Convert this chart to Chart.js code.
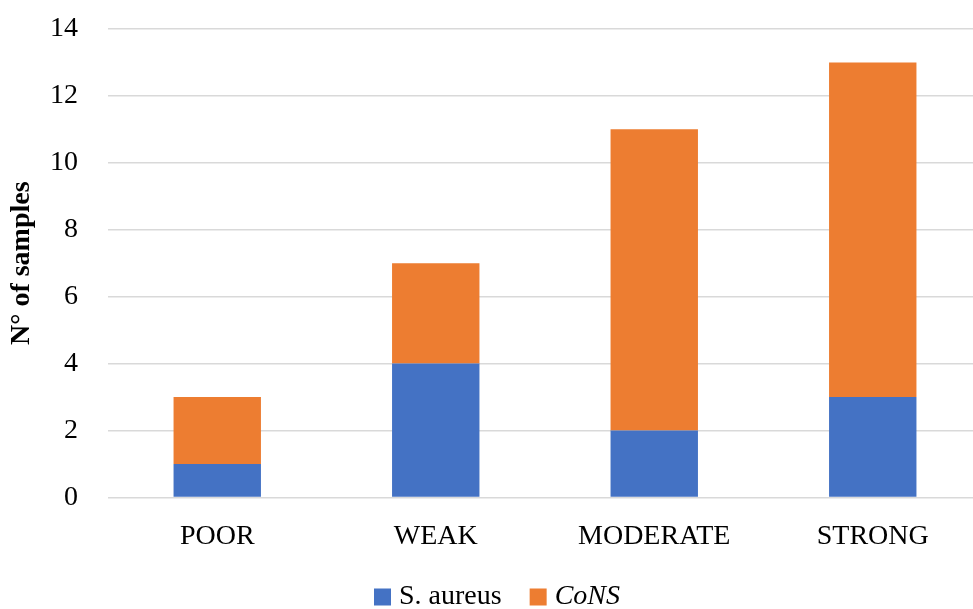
<!DOCTYPE html>
<html>
<head>
<meta charset="utf-8">
<script src="https://cdn.jsdelivr.net/npm/chart.js@4.4.0/dist/chart.umd.min.js"></script>
<style>
  html, body { margin: 0; padding: 0; background: #fff; overflow: hidden; }
  #wrap { width: 982px; height: 609px; }
</style>
</head>
<body>
<div id="wrap"><canvas id="chartBiofilm"></canvas></div>
<script>
// categorías de formación de biofilm
const categorias = ["POOR", "WEAK", "MODERATE", "STRONG"];
const valoresAureus = [1, 4, 2, 3];
const valoresCoNS = [2, 3, 9, 10];
const nombresSeries = ["S. aureus", "CoNS"];
const estilosLeyenda = ["normal", "italic"];

const FUENTE = "'Liberation Serif', 'Times New Roman', serif";
const TAM = 28;

// Leyenda propia: Chart.js no permite cursiva en una sola etiqueta
const leyendaMixta = {
    id: "leyendaMixta",
    afterDraw(chart) {
        const ctx = chart.ctx;
        const items = chart.data.datasets.map((ds, i) => ({
            texto: ds.label,
            color: ds.backgroundColor,
            estilo: estilosLeyenda[i]
        }));
        const caja = 17, sep = 8, hueco = 28, y = 597, centro = 497;
        ctx.save();
        ctx.textBaseline = "middle";
        let total = 0;
        items.forEach(it => {
            ctx.font = `${it.estilo} ${TAM}px ${FUENTE}`;
            it.ancho = ctx.measureText(it.texto).width;
            total += caja + sep + it.ancho;
        });
        total += hueco * (items.length - 1);
        let x = centro - total / 2;
        items.forEach(it => {
            ctx.fillStyle = it.color;
            ctx.fillRect(x, y - caja / 2, caja, caja);
            x += caja + sep;
            ctx.font = `${it.estilo} ${TAM}px ${FUENTE}`;
            ctx.fillStyle = "#000";
            ctx.fillText(it.texto, x, y);
            x += it.ancho + hueco;
        });
        ctx.restore();
    }
};

new Chart(document.getElementById("chartBiofilm"), {
    type: "bar",
    data: {
        labels: categorias,
        datasets: [
            { label: nombresSeries[0], data: valoresAureus, backgroundColor: "#4472C4" },
            { label: nombresSeries[1], data: valoresCoNS, backgroundColor: "#ED7D31" }
        ]
    },
    options: {
        responsive: true,
        maintainAspectRatio: false,
        animation: false,
        layout: { padding: { top: 29, bottom: 42, left: 0 } },
        datasets: { bar: { barPercentage: 0.4, categoryPercentage: 1 } },
        plugins: {
            legend: { display: false },
            tooltip: { enabled: false }
        },
        scales: {
            x: {
                stacked: true,
                grid: { display: false },
                border: { display: false },
                ticks: { color: "#000", padding: 14, font: { family: FUENTE, size: TAM } }
            },
            y: {
                stacked: true,
                min: 0,
                max: 14,
                afterFit(scale) { scale.width = 108; },
                // marca invisible para separar las etiquetas de la rejilla
                grid: { color: "#d9d9d9", lineWidth: 1.5, drawTicks: true, tickLength: 30, tickColor: "rgba(0,0,0,0)" },
                border: { display: false },
                ticks: { stepSize: 2, color: "#000", padding: 0, font: { family: FUENTE, size: TAM } },
                title: {
                    display: true,
                    text: "N° of samples",
                    color: "#000",
                    padding: { top: 5, bottom: 0 },
                    font: { family: FUENTE, size: TAM, weight: "bold" }
                }
            }
        }
    },
    plugins: [leyendaMixta]
});
</script>
</body>
</html>
